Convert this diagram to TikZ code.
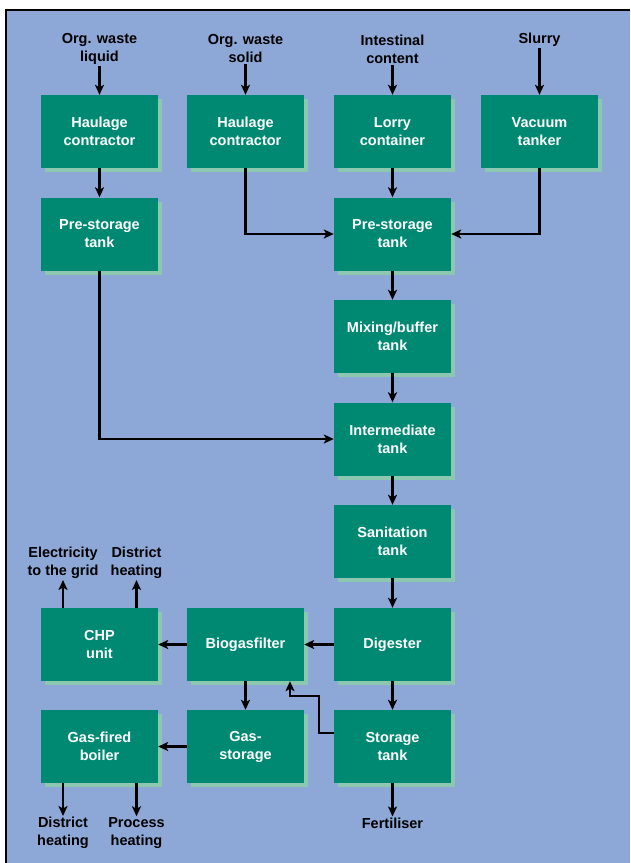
\documentclass[tikz,border=0pt]{standalone}
\usepackage{fontspec}
\setmainfont{Liberation Sans}
\usetikzlibrary{arrows.meta,shadows,calc}
\definecolor{bgblue}{RGB}{141,168,214}
\definecolor{boxgreen}{RGB}{0,137,114}
\definecolor{shadegreen}{RGB}{140,200,175}

\begin{document}
\begin{tikzpicture}[x=1pt,y=1pt,
    font=\fontsize{14.5}{18}\selectfont\bfseries,
    box/.style={fill=boxgreen, text=white, minimum width=117pt, minimum height=73pt,
        inner sep=0pt, align=center,
        general shadow={fill=shadegreen, shadow xshift=4pt, shadow yshift=-4pt}},
    lbl/.style={align=center, inner sep=1pt},
    arr/.style={line width=2.4pt, -{Stealth[length=10pt,width=9pt,inset=2.5pt]}}]
        \useasboundingbox (0,0) rectangle (630,-863);
        \fill[bgblue] (6,-10) rectangle (630,-863);
        \draw[line width=2pt] (6,-863) -- (6,-10) -- (630,-10);
        % inputs
        \node[lbl] (inliq) at (99.5,-49) {Org. waste\\liquid};
        \node[lbl] (insol) at (245.5,-49) {Org. waste\\solid};
        \node[lbl] (inint) at (392.5,-49) {Intestinal\\content};
        \node[lbl] (slurry) at (539.5,-40) {Slurry};
        % boxes
        \node[box] (hauliq) at (99.5,-131.5) {Haulage\\contractor};
        \node[box] (hausol) at (245.5,-131.5) {Haulage\\contractor};
        \node[box] (lorry) at (392.5,-131.5) {Lorry\\container};
        \node[box] (vacuum) at (539.5,-131.5) {Vacuum\\tanker};
        \node[box] (prestA) at (99.5,-234) {Pre-storage\\tank};
        \node[box] (prestB) at (392.5,-234) {Pre-storage\\tank};
        \node[box] (mixing) at (392.5,-336.5) {Mixing/buffer\\tank};
        \node[box] (intermed) at (392.5,-439) {Intermediate\\tank};
        \node[box] (sanit) at (392.5,-541.5) {Sanitation\\tank};
        \node[box] (chp) at (99.5,-644.5) {CHP\\unit};
        \node[box] (gasfilt) at (245.5,-644.5) {Biogasfilter};
        \node[box] (digest) at (392.5,-644.5) {Digester};
        \node[box] (boiler) at (99.5,-746.5) {Gas-fired\\boiler};
        \node[box] (gasstore) at (245.5,-746.5) {Gas-\\storage};
        \node[box] (storetank) at (392.5,-746.5) {Storage\\tank};
        % outputs
        \node[lbl] (elec) at (63,-563) {Electricity\\to the grid};
        \node[lbl] (dheatA) at (136.5,-563) {District\\heating};
        \node[lbl] (dheatB) at (63,-833) {District\\heating};
        \node[lbl] (procheat) at (136.5,-833) {Process\\heating};
        \node[lbl] (fert) at (392.5,-823) {Fertiliser};
        % flows
        \draw[arr] (inliq) -- (hauliq);
        \draw[arr] (insol) -- (hausol);
        \draw[arr] (inint) -- (lorry);
        \draw[arr] (slurry) -- (vacuum);
        \draw[arr] (hauliq) -- (prestA);
        \draw[arr] (hausol) |- (prestB);
        \draw[arr] (lorry) -- (prestB);
        \draw[arr] (vacuum) |- (prestB);
        \draw[arr] (prestB) -- (mixing);
        \draw[arr] (mixing) -- (intermed);
        \draw[arr] (prestA) |- (intermed);
        \draw[arr] (intermed) -- (sanit);
        \draw[arr] (sanit) -- (digest);
        \draw[arr] (digest) -- (storetank);
        \draw[arr] (digest) -- (gasfilt);
        \draw[arr] (gasfilt) -- (chp);
        \draw[arr] (gasfilt) -- (gasstore);
        \draw[arr] (gasstore) -- (boiler);
        \draw[arr] ([yshift=13.5pt]storetank.west) -- ++(-15,0) -- ++(0,37) -| ([xshift=44.5pt]gasfilt.south);
        \draw[arr] (storetank) -- (fert);
        \draw[arr] ([xshift=-36.5pt]chp.north) -- (elec);
        \draw[arr] ([xshift=37pt]chp.north) -- (dheatA);
        \draw[arr] ([xshift=-36.5pt]boiler.south) -- (dheatB);
        \draw[arr] ([xshift=37pt]boiler.south) -- (procheat);
    \end{tikzpicture}
\end{document}
